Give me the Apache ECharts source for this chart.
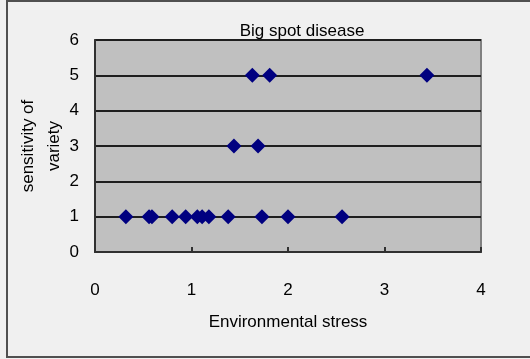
<!DOCTYPE html>
<html>
<head>
<meta charset="utf-8">
<script src="https://cdn.jsdelivr.net/npm/echarts@6/dist/echarts.min.js"></script>
<style>
  html, body { margin: 0; padding: 0; background: #f0f0f0; }
  #chart { width: 530px; height: 359px; }
</style>
</head>
<body>
<div id="chart"></div>
<script>
// Environmental stress (x) against sensitivity of variety (y)
const stress = [
  0.32, 0.56, 0.59, 0.80, 0.94, 1.06, 1.11, 1.18, 1.38, 1.73, 2.00, 2.56,
  1.44, 1.69,
  1.63, 1.81, 3.44
];
const sensitivity = [
  1, 1, 1, 1, 1, 1, 1, 1, 1, 1, 1, 1,
  3, 3,
  5, 5, 5
];
const xTicks = [0, 1, 2, 3, 4];
const yTicks = [0, 1, 2, 3, 4, 5, 6];

const points = stress.map((x, i) => [x, sensitivity[i]]);
const font = '"Liberation Sans", Arial, sans-serif';

const chart = echarts.init(document.getElementById('chart'), null, { renderer: 'canvas' });
chart.setOption({
  backgroundColor: '#f0f0f0',
  animation: false,
  title: {
    text: 'Big spot disease',
    left: 297, top: 18, textAlign: 'center',
    textStyle: { fontFamily: font, fontSize: 17, fontWeight: 'normal', color: '#000' }
  },
  grid: {
    left: 95, top: 40, width: 386, height: 212,
    show: true, backgroundColor: '#c0c0c0', borderColor: '#808080', borderWidth: 2
  },
  xAxis: {
    type: 'value',
    min: xTicks[0], max: xTicks[xTicks.length - 1], interval: 1,
    name: 'Environmental stress',
    nameLocation: 'middle', nameGap: 62,
    nameTextStyle: { fontFamily: font, fontSize: 17, color: '#000' },
    axisLine: { show: true, onZero: false, lineStyle: { color: '#303030', width: 2 } },
    axisTick: { show: true, inside: true, length: 5, lineStyle: { color: '#303030', width: 2 } },
    axisLabel: { margin: 30, fontFamily: font, fontSize: 17, color: '#000' },
    splitLine: { show: false }
  },
  yAxis: {
    type: 'value',
    min: yTicks[0], max: yTicks[yTicks.length - 1], interval: 1,
    name: 'sensitivity of\nvariety',
    nameLocation: 'middle', nameGap: 28, nameRotate: 90,
    nameMoveOverlap: false,
    nameTextStyle: { fontFamily: font, fontSize: 17, color: '#000', lineHeight: 26 },
    axisLine: { show: true, lineStyle: { color: '#303030', width: 2 } },
    axisTick: { show: false },
    axisLabel: { margin: 16, fontFamily: font, fontSize: 17, color: '#000' },
    splitLine: { show: true, lineStyle: { color: '#1e1e1e', width: 2 } }
  },
  graphic: [{
    type: 'polyline',
    shape: { points: [[540, 1], [7, 1], [7, 357], [540, 357]] },
    style: { stroke: '#505050', lineWidth: 2, fill: null },
    silent: true
  }],
  series: [{
    type: 'scatter',
    data: points,
    symbol: 'diamond',
    symbolSize: 15,
    itemStyle: { color: '#000080', opacity: 1 }
  }]
});
</script>
</body>
</html>
